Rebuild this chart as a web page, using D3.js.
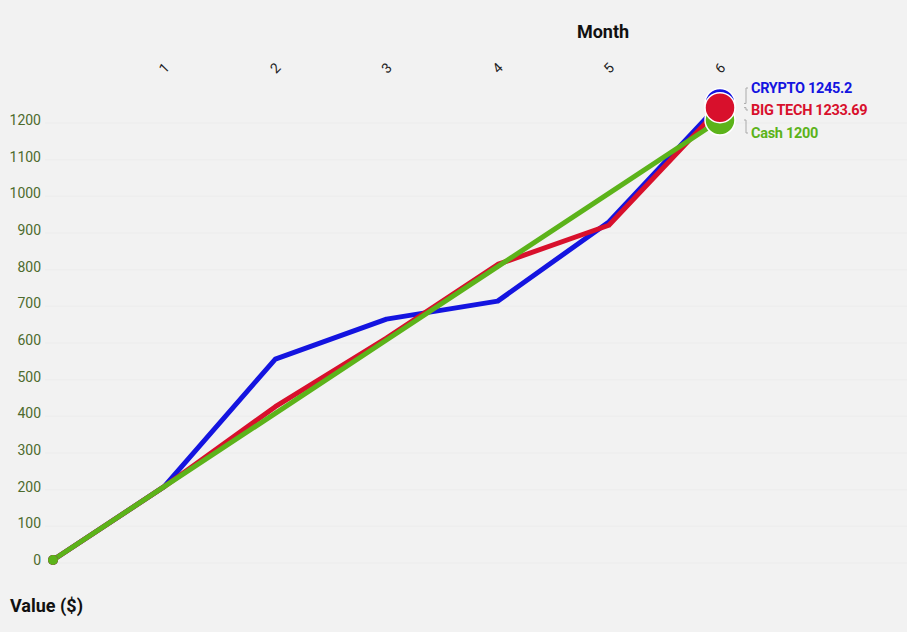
<!DOCTYPE html>
<html>
<head>
<meta charset="utf-8">
<script src="https://cdn.jsdelivr.net/npm/d3@7"></script>
<style>
  html, body { margin: 0; padding: 0; background: #f2f2f2; }
  svg { display: block; font-family: "Roboto", "Liberation Sans", sans-serif; }
  .ytick text { fill: #4d6b2e; font-size: 14px; }
  .xtick text { fill: #222; font-size: 14px; }
  .titulo { font-weight: bold; font-size: 18px; fill: #111; }
  .etiqueta { font-weight: bold; font-size: 14.5px; letter-spacing: -0.3px; }
</style>
</head>
<body>
<div id="graf"></div>
<script>
const months = [0, 1, 2, 3, 4, 5, 6]
const monthTicks = [1, 2, 3, 4, 5, 6]
const yTicks = [0, 100, 200, 300, 400, 500, 600, 700, 800, 900, 1000, 1100, 1200]
const seriesNames = ["CRYPTO", "BIG TECH", "Cash"]
const cryptoValues = [0, 200, 548, 657, 706, 922, 1245.2]
const bigTechValues = [0, 200, 418, 605, 806, 913, 1233.69]
const cashValues = [0, 200, 400, 600, 800, 1000, 1200]
const colores = ["#1414e0", "#d8102c", "#5cb31a"]

const anchoTotal = 907
const altoTotal = 632

const svg = d3.select("#graf")
  .append("svg")
  .attr("width", anchoTotal)
  .attr("height", altoTotal)

const x = d3.scaleLinear().domain([0, 6]).range([53, 720])
const y = d3.scaleLinear().domain([0, 1200]).range([560, 120])

// faint grid
svg.append("g")
  .selectAll("line")
  .data(yTicks)
  .join("line")
  .attr("x1", 45)
  .attr("x2", anchoTotal)
  .attr("y1", (d) => y(d) + 3)
  .attr("y2", (d) => y(d) + 3)
  .attr("stroke", "#eeeeee")
  .attr("stroke-width", 1.5)

// y ticks
svg.append("g")
  .attr("class", "ytick")
  .selectAll("text")
  .data(yTicks)
  .join("text")
  .attr("x", 41)
  .attr("y", (d) => y(d))
  .attr("dy", "0.35em")
  .attr("text-anchor", "end")
  .text((d) => d)

// x ticks (top)
svg.append("g")
  .attr("class", "xtick")
  .selectAll("text")
  .data(monthTicks)
  .join("text")
  .attr("transform", (d) => `translate(${x(d)}, 68) rotate(-45)`)
  .attr("text-anchor", "middle")
  .attr("dy", "0.35em")
  .text((d) => d)

svg.append("text")
  .attr("class", "titulo")
  .attr("x", 603)
  .attr("y", 38)
  .attr("text-anchor", "middle")
  .text("Month")

svg.append("text")
  .attr("class", "titulo")
  .attr("x", 10)
  .attr("y", 612)
  .text("Value ($)")

const series = [cryptoValues, bigTechValues, cashValues].map((vals, i) => ({
  name: seriesNames[i],
  color: colores[i],
  values: vals.map((v, j) => ({ m: months[j], v: v }))
}))

const line = d3.line().x((d) => x(d.m)).y((d) => y(d.v))

svg.append("g")
  .selectAll("path")
  .data(series)
  .join("path")
  .attr("d", (d) => line(d.values))
  .attr("fill", "none")
  .attr("stroke", (d) => d.color)
  .attr("stroke-width", 5)
  .attr("stroke-linejoin", "round")

// start dots
svg.append("g")
  .selectAll("circle")
  .data(series)
  .join("circle")
  .attr("cx", (d) => x(d.values[0].m))
  .attr("cy", (d) => y(d.values[0].v))
  .attr("r", 5)
  .attr("fill", (d) => d.color)

// end circles: blue, green, red on top
const ultimo = (d) => d.values[d.values.length - 1]
svg.append("g")
  .selectAll("circle")
  .data([series[0], series[2], series[1]])
  .join("circle")
  .attr("cx", (d) => x(ultimo(d).m))
  .attr("cy", (d) => y(ultimo(d).v))
  .attr("r", 15)
  .attr("fill", (d) => d.color)
  .attr("stroke", "#fff")
  .attr("stroke-width", 1.5)

// labels pushed apart
const labelY = [88, 110, 133]
svg.append("g")
  .selectAll("path")
  .data(series)
  .join("path")
  .attr("d", (d, i) => `M744,${y(ultimo(d).v)} h2 V${labelY[i]} h2`)
  .attr("fill", "none")
  .attr("stroke", "#aaa")
  .attr("stroke-width", 1)

svg.append("g")
  .selectAll("text")
  .data(series)
  .join("text")
  .attr("class", "etiqueta")
  .attr("x", 751)
  .attr("y", (d, i) => labelY[i])
  .attr("dy", "0.35em")
  .attr("fill", (d) => d.color)
  .text((d) => `${d.name} ${ultimo(d).v}`)
</script>
</body>
</html>
